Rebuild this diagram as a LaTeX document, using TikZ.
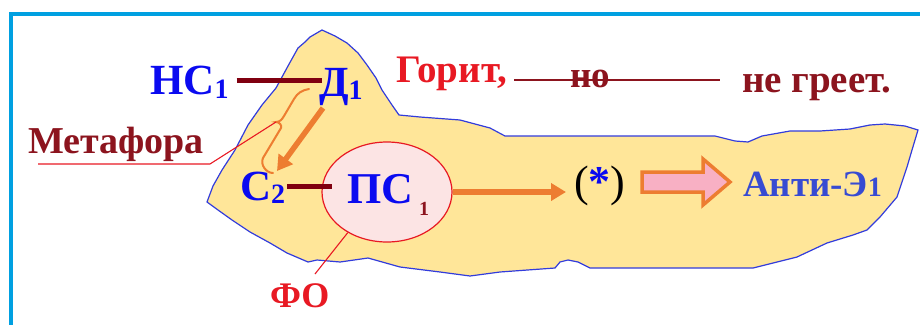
\documentclass[tikz,border=0pt]{standalone}
\usepackage{fontspec}
\setmainfont{Liberation Serif}
\usetikzlibrary{shapes.geometric,arrows.meta}
\definecolor{frameblue}{RGB}{0,160,225}
\definecolor{blobfill}{RGB}{255,230,153}
\definecolor{blobline}{RGB}{50,60,220}
\definecolor{tblue}{RGB}{10,10,240}
\definecolor{ablue}{RGB}{55,75,210}
\definecolor{barmaroon}{RGB}{128,0,16}
\definecolor{tmaroon}{RGB}{140,20,30}
\definecolor{tred}{RGB}{232,25,35}
\definecolor{orng}{RGB}{237,125,49}
\definecolor{pinkfill}{RGB}{252,228,228}
\definecolor{arrpink}{RGB}{248,176,196}
\newcommand\fsz[1]{\fontsize{#1}{#1}\selectfont}
\pgfdeclarelayer{bg}
\pgfsetlayers{bg,main}
\tikzset{
  txt/.style={inner sep=0pt, outer sep=0pt, anchor=base west, font=\bfseries},
  bar/.style={draw=barmaroon, line width=5pt},
  thinline/.style={draw=tmaroon, line width=1.6pt},
  redthin/.style={draw=tred, line width=1.1pt},
  oarrow/.style={draw=orng, line width=5.5pt, -{Triangle[length=15pt,width=17pt]}},
  brace/.style={draw=orng, line width=2pt, line cap=round},
}
\begin{document}
\begin{tikzpicture}[x=1pt,y=-1pt]
\useasboundingbox (0,0) rectangle (920,324);
% frame
\draw[frameblue, line width=4.5pt] (11,340) -- (11,14) -- (940,14);
% blob
\draw[blobline, line width=1.2pt, fill=blobfill]
 (207,202) -- (213,186) -- (222,170) -- (235,150) -- (248,125) -- (262,105) -- (276,88)
 -- (288,66) -- (298,48) -- (305,42) -- (310,37) -- (322,30) -- (335,36) -- (347,43)
 -- (358,53) -- (367,65) -- (376,78) -- (382,90) -- (392,105) -- (399,115) -- (420,117)
 -- (460,120) -- (490,128) -- (505,136) -- (600,136) -- (715,136) -- (735,141) -- (748,142)
 -- (762,136) -- (790,131) -- (820,131) -- (850,129) -- (870,125) -- (885,124) -- (905,126)
 -- (918,130) -- (912,150) -- (907,167) -- (897,197) -- (880,217) -- (867,230) -- (853,235)
 -- (827,243) -- (797,257) -- (773,263) -- (753,268) -- (700,268) -- (640,268) -- (590,268)
 -- (578,262) -- (568,260) -- (560,262) -- (555,268) -- (500,272) -- (470,276) -- (440,272)
 -- (400,267) -- (368,258) -- (340,262) -- (317,260) -- (308,262) -- (287,253) -- (270,243)
 -- (250,232) -- (232,220) -- (218,210) -- cycle;
% ellipse
\node[ellipse, draw=tred, line width=1.2pt, fill=pinkfill, minimum width=130pt, minimum height=100pt, inner sep=0pt] (ell) at (387,192) {};
% texts
\node[txt, text=tblue] (hc) at (150,94) {\fsz{43}НС\raisebox{-4pt}{\fsz{28}1}};
\node[txt, text=tblue] (d1) at (319,96) {\fsz{43}Д\raisebox{-3pt}{\fsz{28}1}};
\node[txt, text=tred] (gor) at (396,82) {\fsz{39}Горит,};
\node[txt, text=tmaroon] (no) at (570,87) {\fsz{37}но};
\node[txt, text=tmaroon] (ne) at (742,92) {\fsz{39}не греет.};
\node[txt, text=tmaroon] (met) at (28,153) {\fsz{38}Метафора};
\node[txt, text=tblue] (c2) at (240,200) {\fsz{43}С\raisebox{-3pt}{\fsz{28}2}};
\node[txt, text=tblue] (pc) at (347,203) {\fsz{44}ПС\hspace{6pt}\raisebox{-12pt}{\fsz{20}\color{tmaroon}1}};
\node[txt, text=tred] (fo) at (270,307) {\fsz{36}ФО};
\node[inner sep=0pt, outer sep=0pt, anchor=base west] (star) at (574,196) {\fsz{44}(\textcolor{tblue}{\bfseries *})};
\node[txt, text=ablue] (anti) at (743,196) {\fsz{37}Анти-Э\fsz{28}1};
% bars
\draw[bar] ([shift={(8pt,14pt)}]hc.base east) -- ([shift={(3pt,16pt)}]d1.base west);
\draw[bar] ([shift={(2pt,14pt)}]c2.base east) coordinate (b2s) -- ([xshift=11pt]ell.west |- b2s);
% thin line behind "но"
\begin{pgfonlayer}{bg}
\draw[thinline] ([shift={(7pt,2pt)}]gor.base east) -- ([shift={(-22pt,12pt)}]ne.base west);
\end{pgfonlayer}
% orange arrows
\draw[oarrow] ([shift={(4pt,-12pt)}]d1.base west) -- ([shift={(37pt,29pt)}]c2.base west);
\draw[oarrow] (ell.east) -- ([xshift=-8pt]star.west |- ell.east);
% brace
\coordinate (btip) at (276,122);
\draw[brace] (309,89) to[out=190,in=60] (294,99) -- (284,116) to[out=240,in=0] (btip)
  to[out=0,in=65] (281,128) -- (263,158) to[out=245,in=180] (273,173);
% red leader lines
\draw[redthin] ([shift={(10pt,-11pt)}]met.base west) -- ++(172,0) -- (btip);
\draw[redthin] (ell.-134) -- ([shift={(45pt,33pt)}]fo.base west);
% hollow arrow
\draw[orng, line width=3.5pt, fill=arrpink, line join=miter]
  (642,172) -- (703,172) -- (703,159) -- (730,182) -- (703,205) -- (703,192) -- (642,192) -- cycle;
\end{tikzpicture}
\end{document}
